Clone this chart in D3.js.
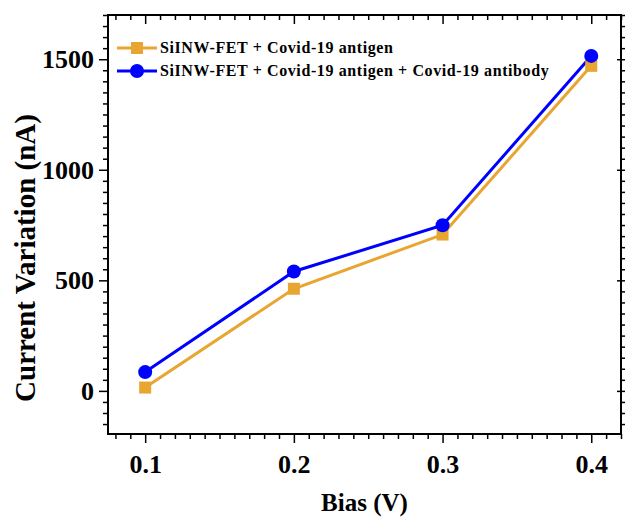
<!DOCTYPE html>
<html>
<head>
<meta charset="utf-8">
<script src="https://cdn.jsdelivr.net/npm/d3@7"></script>
<style>
  body { margin: 0; background: #fff; }
  text { font-family: "Liberation Serif", "Times New Roman", serif; font-weight: bold; }
</style>
</head>
<body>
<svg id="canvas"></svg>
<script>
// data
const bias = [0.1, 0.2, 0.3, 0.4]
const antigen = [15, 462, 707, 1470]
const antibody = [85, 540, 749, 1515]
const seriesNames = ['SiINW-FET + Covid-19 antigen', 'SiINW-FET + Covid-19 antigen + Covid-19 antibody']
const xTicks = [0.1, 0.2, 0.3, 0.4]
const yTicks = [0, 500, 1000, 1500]

let w = 625
let h = 520
let padL = 108, padR = 621, padT = 15, padB = 434

let canvas = d3.select('#canvas').attr('width', w).attr('height', h)

let xScale = d3.scaleLinear().domain([0.075, 0.42]).range([padL, padR])
let yScale = d3.scaleLinear().domain([-195, 1700]).range([padB, padT])

const orange = '#E8A630'
const blue = '#0000FF'

// minor + major ticks
let xMinor = d3.range(0.08, 0.4201, 0.01).filter(v => Math.abs(v * 10 - Math.round(v * 10)) > 1e-6)
let yMinor = d3.range(-150, 1701, 50).filter(v => v % 500 !== 0)

let axisG = canvas.append('g')

// bottom axis (outward ticks)
axisG.append('g')
  .attr('transform', 'translate(0,' + padB + ')')
  .call(d3.axisBottom(xScale).tickValues(xMinor).tickSize(5).tickFormat(''))
axisG.append('g')
  .attr('transform', 'translate(0,' + padB + ')')
  .call(d3.axisBottom(xScale).tickValues(xTicks).tickSize(9).tickPadding(12).tickFormat(d3.format('.1f')))
  .selectAll('text').attr('font-size', 26).attr('fill', '#000')

// top axis (inward ticks)
axisG.append('g')
  .attr('transform', 'translate(0,' + padT + ')')
  .call(d3.axisBottom(xScale).tickValues(xMinor).tickSize(5).tickFormat(''))
axisG.append('g')
  .attr('transform', 'translate(0,' + padT + ')')
  .call(d3.axisBottom(xScale).tickValues(xTicks).tickSize(9).tickFormat(''))

// left axis (outward ticks)
axisG.append('g')
  .attr('transform', 'translate(' + padL + ',0)')
  .call(d3.axisLeft(yScale).tickValues(yMinor).tickSize(5).tickFormat(''))
axisG.append('g')
  .attr('transform', 'translate(' + padL + ',0)')
  .call(d3.axisLeft(yScale).tickValues(yTicks).tickSize(9).tickPadding(5).tickFormat(d3.format('d')))
  .selectAll('text').attr('font-size', 26).attr('fill', '#000')

// right axis
axisG.append('g')
  .attr('transform', 'translate(' + padR + ',0)')
  .call(d3.axisRight(yScale).tickValues(yMinor).tickSize(4).tickFormat(''))
axisG.append('g')
  .attr('transform', 'translate(' + (padR - 4) + ',0)')
  .call(d3.axisRight(yScale).tickValues(yTicks).tickSize(9).tickFormat(''))

axisG.selectAll('.domain').remove()
axisG.selectAll('line').attr('stroke', '#000').attr('stroke-width', 1.5)

// frame
canvas.append('rect')
  .attr('x', padL).attr('y', padT)
  .attr('width', padR - padL).attr('height', padB - padT)
  .attr('fill', 'none').attr('stroke', '#000').attr('stroke-width', 2)

// series
let line = d3.line().x((d, i) => xScale(bias[i])).y(d => yScale(d))

canvas.append('path').datum(antigen)
  .attr('d', line).attr('fill', 'none').attr('stroke', orange).attr('stroke-width', 3)
canvas.append('path').datum(antibody)
  .attr('d', line).attr('fill', 'none').attr('stroke', blue).attr('stroke-width', 3)

canvas.selectAll('.sq').data(antigen).enter().append('rect')
  .attr('class', 'sq')
  .attr('x', (d, i) => xScale(bias[i]) - 6)
  .attr('y', d => yScale(d) - 6)
  .attr('width', 12).attr('height', 12)
  .attr('fill', orange)

canvas.selectAll('.dot').data(antibody).enter().append('circle')
  .attr('class', 'dot')
  .attr('cx', (d, i) => xScale(bias[i]))
  .attr('cy', d => yScale(d))
  .attr('r', 7)
  .attr('fill', blue)

// legend
let legend = canvas.append('g')
let lgY = [48, 71]
let lgCol = [orange, blue]
seriesNames.forEach((name, i) => {
  legend.append('line')
    .attr('x1', 117).attr('x2', 157).attr('y1', lgY[i]).attr('y2', lgY[i])
    .attr('stroke', lgCol[i]).attr('stroke-width', 3)
  if (i === 0) {
    legend.append('rect').attr('x', 131).attr('y', lgY[i] - 6).attr('width', 12).attr('height', 12).attr('fill', orange)
  } else {
    legend.append('circle').attr('cx', 137).attr('cy', lgY[i]).attr('r', 7).attr('fill', blue)
  }
  legend.append('text')
    .attr('x', 160).attr('y', lgY[i] + 5)
    .attr('font-size', 16)
    .attr('letter-spacing', 0.6)
    .attr('fill', '#000')
    .text(name)
})

// axis titles
canvas.append('text')
  .attr('x', (padL + padR) / 2).attr('y', 511)
  .attr('text-anchor', 'middle')
  .attr('font-size', 25)
  .text('Bias (V)')

canvas.append('text')
  .attr('transform', 'translate(35,' + 258 + ') rotate(-90)')
  .attr('text-anchor', 'middle')
  .attr('font-size', 29)
  .text('Current Variation (nA)')
</script>
</body>
</html>
